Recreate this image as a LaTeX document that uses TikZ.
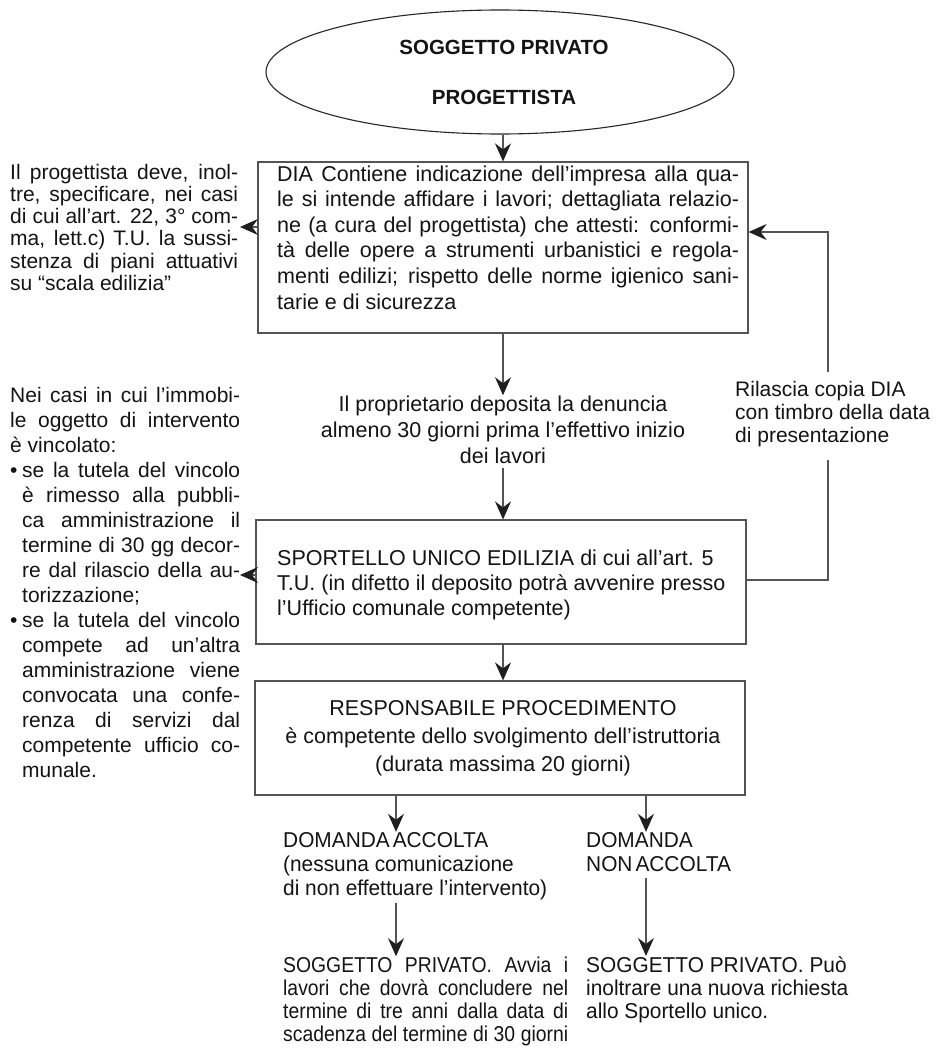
\documentclass[tikz,border=0pt]{standalone}
\usepackage{fontspec}
\setmainfont{Liberation Sans}
\newfontfamily\condA[FakeStretch=0.97]{Liberation Sans}
\newfontfamily\condB[FakeStretch=0.9]{Liberation Sans}
\usetikzlibrary{shapes.geometric,arrows.meta,calc}
\newdimen\linew
\newcommand\Jl[1]{\hbox to \linew{#1}}
\newcommand\Ll[1]{\hbox to \linew{#1\hfil}}
\newcommand\Cl[1]{\hbox to \linew{\hfil#1\hfil}}
\newcommand\Bul{\hbox to 12pt{•\hfil}}
\newcommand\Blk[3]{\linew=#1pt\relax\vtop{\baselineskip=#2pt\relax\lineskiplimit=-100pt\relax\lineskip=0pt\relax #3}}
\definecolor{lc}{gray}{0.33}
\definecolor{tc}{gray}{0.08}
\tikzset{
  txt/.style={inner sep=0pt, text=tc, font=\fontsize{21.5}{25}\selectfont},
  side/.style={inner sep=0pt, text=tc, font=\fontsize{21}{23}\selectfont},
  bot/.style={inner sep=0pt, text=tc, font=\fontsize{21.5}{25}\condA},
  bx/.style={draw=lc, line width=1.2pt, rectangle, inner sep=0pt},
  arr/.style={draw=lc, line width=1.1pt, -{Stealth[length=18pt,width=16pt,inset=6pt,color=black!88]}},
  ln/.style={draw=lc, line width=1.1pt}
}
\begin{document}
\begin{tikzpicture}[x=1pt,y=-1pt]
\fill[white] (0,0) rectangle (938,1049);
\useasboundingbox (0,0) rectangle (938,1049);

% top ellipse
\node[ellipse, draw=black!85, line width=1.1pt, minimum width=468pt, minimum height=124pt, inner sep=0pt, text=tc, font=\fontsize{20.5}{20.5}\selectfont\bfseries] (ell) at (500,72)
  {\hskip8pt\Blk{260}{50}{\Cl{SOGGETTO PRIVATO}\Cl{PROGETTISTA}}};

% DIA box
\node[bx, minimum width=490pt, minimum height=171pt] (dia) at (503,247.5) {};
\node[txt, anchor=base west] (diatext) at (277,181) {\Blk{462}{25.6}{%
\Jl{DIA Contiene indicazione dell’impresa alla qua-}
\Jl{le si intende affidare i lavori; dettagliata relazio-}
\Jl{ne (a cura del progettista) che attesti: conformi-}
\Jl{tà delle opere a strumenti urbanistici e regola-}
\Jl{menti edilizi; rispetto delle norme igienico sani-}
\Ll{tarie e di sicurezza}}};

% left text 1
\node[side, anchor=base west] (left1) at (10,179) {\Blk{228}{22.3}{%
\Jl{Il progettista deve, inol-}
\Jl{tre, specificare, nei casi}
\Jl{di cui all’art. 22, 3° com-}
\Jl{ma, lett.c) T.U. la sussi-}
\Jl{stenza di piani attuativi}
\Ll{su “scala edilizia”}}};

% middle text
\node[txt, anchor=base] (mid) at (503,411) {\Blk{420}{26}{%
\Cl{Il proprietario deposita la denuncia}
\Cl{almeno 30 giorni prima l’effettivo inizio}
\Cl{dei lavori}}};

% Sportello box
\node[bx, minimum width=490pt, minimum height=124pt] (sport) at (501,582) {};
\node[txt, anchor=base west] (sporttext) at (277,565) {\Blk{460}{25}{%
\Ll{SPORTELLO UNICO EDILIZIA di cui all’art. 5}
\Ll{T.U. (in difetto il deposito potrà avvenire presso}
\Ll{l’Ufficio comunale competente)}}};

% left text 2
\node[side, anchor=base west] (left2) at (10,402) {\Blk{230}{25}{%
\Jl{Nei casi in cui l’immobi-}
\Jl{le oggetto di intervento}
\Ll{è vincolato:}
\Jl{\Bul se la tutela del vincolo}
\Jl{\kern12pt è rimesso alla pubbli-}
\Jl{\kern12pt ca amministrazione il}
\Jl{\kern12pt termine di 30 gg decor-}
\Jl{\kern12pt re dal rilascio della au-}
\Ll{\kern12pt torizzazione;}
\Jl{\Bul se la tutela del vincolo}
\Jl{\kern12pt compete ad un’altra}
\Jl{\kern12pt amministrazione viene}
\Jl{\kern12pt convocata una confe-}
\Jl{\kern12pt renza di servizi dal}
\Jl{\kern12pt competente ufficio co-}
\Ll{\kern12pt munale.}}};

% right label
\node[side, anchor=base west] (rlab) at (735,396) {\Blk{203}{23.3}{%
\Ll{Rilascia copia DIA}
\Ll{con timbro della data}
\Ll{di presentazione}}};

% Responsabile box
\node[bx, minimum width=490pt, minimum height=114pt] (resp) at (500,738) {};
\node[txt, anchor=base] (resptext) at (503,715) {\Blk{470}{28}{%
\Cl{RESPONSABILE PROCEDIMENTO}
\Cl{è competente dello svolgimento dell’istruttoria}
\Cl{(durata massima 20 giorni)}}};

% bottom texts
\node[bot, anchor=base west] (da) at (283,847) {\Blk{280}{24}{%
\Ll{DOMANDA\kern3pt ACCOLTA}
\Ll{(nessuna comunicazione}
\Ll{di non effettuare l’intervento)}}};
\node[bot, anchor=base west] (dn) at (586,847) {\Blk{200}{24}{%
\Ll{DOMANDA}
\Ll{NON\kern3pt ACCOLTA}}};
\node[inner sep=0pt, text=tc, font=\fontsize{21.5}{25}\condB, anchor=base west] (sp1) at (283,972) {\Blk{285}{23}{%
\Jl{SOGGETTO PRIVATO. Avvia i}
\Jl{lavori che dovrà concludere nel}
\Jl{termine di tre anni dalla data di}
\Jl{scadenza del termine di 30 giorni}}};
\node[bot, anchor=base west] (sp2) at (586,972) {\Blk{300}{23}{%
\Ll{SOGGETTO PRIVATO. Può}
\Ll{inoltrare una nuova richiesta}
\Ll{allo Sportello unico.}}};

% coordinates
\coordinate (t1) at (240,227);
\coordinate (t2) at (240,575);
\coordinate (r1) at (828,580);
\coordinate (r2) at (828,460);
\coordinate (r3) at (828,372);
\coordinate (r4) at (828,232);
\coordinate (ax1) at (396,0);
\coordinate (ax2) at (646,0);

% connectors
\draw[arr] (ell.south -| dia.north) -- (dia.north);
\draw[arr] (dia.west |- t1) -- (t1);
\draw[arr] (dia.south) -- (mid.north);
\draw[arr, shorten <=5pt] (mid.south) -- (mid.south |- sport.north);
\draw[arr] (sport.west |- t2) -- (t2);
\draw[arr] (mid.south |- sport.south) -- (mid.south |- resp.north);
\draw[ln] (sport.east |- r1) -- (r1) -- (r2);
\draw[arr] (r3) -- (r4) -- (dia.east |- r4);
\draw[arr] (resp.south -| ax1) -- (da.north -| ax1);
\draw[arr, shorten <=3pt] (da.south -| ax1) -- (sp1.north -| ax1);
\draw[arr] (resp.south -| ax2) -- (dn.north -| ax2);
\draw[arr, shorten <=7pt] (dn.south -| ax2) -- (sp2.north -| ax2);
\end{tikzpicture}
\end{document}
